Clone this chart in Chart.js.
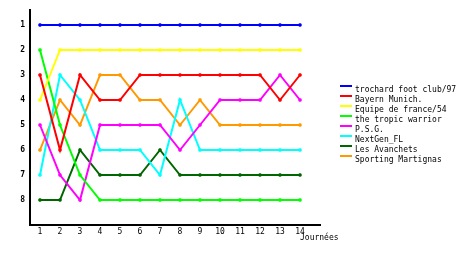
<!DOCTYPE html>
<html><head><meta charset="utf-8">
<script src="https://cdn.jsdelivr.net/npm/chart.js@4"></script>
<style>html,body{margin:0;padding:0;background:#fff}#wrap{width:460px;height:255px}</style>
</head><body><div id="wrap"><canvas id="c" width="460" height="255"></canvas></div>
<script>
const journees = [1,2,3,4,5,6,7,8,9,10,11,12,13,14];
const rankTicks = [1,2,3,4,5,6,7,8];
const teamNames = ["trochard foot club/97","Bayern Munich.","Equipe de france/54","the tropic warrior","P.S.G.","NextGen_FL","Les Avanchets","Sporting Martignas"];
const trochard  = [1,1,1,1,1,1,1,1,1,1,1,1,1,1];
const bayern    = [3,6,3,4,4,3,3,3,3,3,3,3,4,3];
const equipe    = [4,2,2,2,2,2,2,2,2,2,2,2,2,2];
const tropic    = [2,5,7,8,8,8,8,8,8,8,8,8,8,8];
const psg       = [5,7,8,5,5,5,5,6,5,4,4,4,3,4];
const nextgen   = [7,3,4,6,6,6,7,4,6,6,6,6,6,6];
const avanchets = [8,8,6,7,7,7,6,7,7,7,7,7,7,7];
const sporting  = [6,4,5,3,3,4,4,5,4,5,5,5,5,5];
const xTitle = "Journées";

const series = [trochard,bayern,equipe,tropic,psg,nextgen,avanchets,sporting];
const colors = ["#0000ff","#ff0000","#ffff00","#00ff00","#ff00ff","#00ffff","#006600","#ff9900"];
const FONT = "'DejaVu Sans Mono', monospace";

const datasets = series.map((s,i)=>({
  label: teamNames[i],
  data: s.map((v,j)=>({x:journees[j], y:v})),
  borderColor: colors[i], backgroundColor: colors[i],
  borderWidth: 2, pointStyle:'rect', pointRadius:1.6, pointBorderWidth:1,
  pointBorderColor: colors[i], pointBackgroundColor: colors[i],
  tension:0, fill:false
}));

const extras = {
  id:'extras',
  afterDraw(chart){
    const ctx = chart.ctx, xs = chart.scales.x, ca = chart.chartArea;
    ctx.save();
    ctx.font = "8px " + FONT;
    ctx.fillStyle = "#000";
    ctx.textBaseline = "top";
    ctx.textAlign = "left";
    ctx.fillText(xTitle, xs.getPixelForValue(journees[journees.length-1]), 234);
    // legend
    const lx = ca.right + 20, ly0 = 85, step = 10;
    chart.data.datasets.forEach((d,i)=>{
      const y = ly0 + i*step;
      ctx.fillStyle = d.borderColor;
      ctx.fillRect(lx, y, 12, 2);
      ctx.fillStyle = "#000";
      ctx.textBaseline = "middle";
      ctx.fillText(d.label, lx+15, y+4.5);
    });
    ctx.restore();
  }
};

new Chart(document.getElementById('c'), {
  type:'line',
  data:{datasets},
  options:{
    responsive:false, animation:false,
    layout:{padding:{top:10,right:140,left:0,bottom:0}},
    plugins:{legend:{display:false}, tooltip:{enabled:false}},
    scales:{
      x:{type:'linear', min:0.5, max:15,
        afterBuildTicks(s){ s.ticks = journees.map(v=>({value:v})); },
        afterFit(s){ s.height = 30; },
        grid:{display:false, drawTicks:false},
        border:{display:true, color:'#000', width:2},
        ticks:{color:'#000', font:{family:FONT, size:8}, padding:2, maxRotation:0, autoSkip:false}
      },
      y:{type:'linear', reverse:true, min:0.4, max:9,
        afterBuildTicks(s){ s.ticks = rankTicks.map(v=>({value:v})); },
        afterFit(s){ s.width = 30; },
        grid:{display:false, drawTicks:false},
        border:{display:true, color:'#000', width:2},
        ticks:{color:'#000', font:{family:FONT, size:8, weight:'bold'}, padding:5}
      }
    }
  },
  plugins:[extras]
});
</script></body></html>
